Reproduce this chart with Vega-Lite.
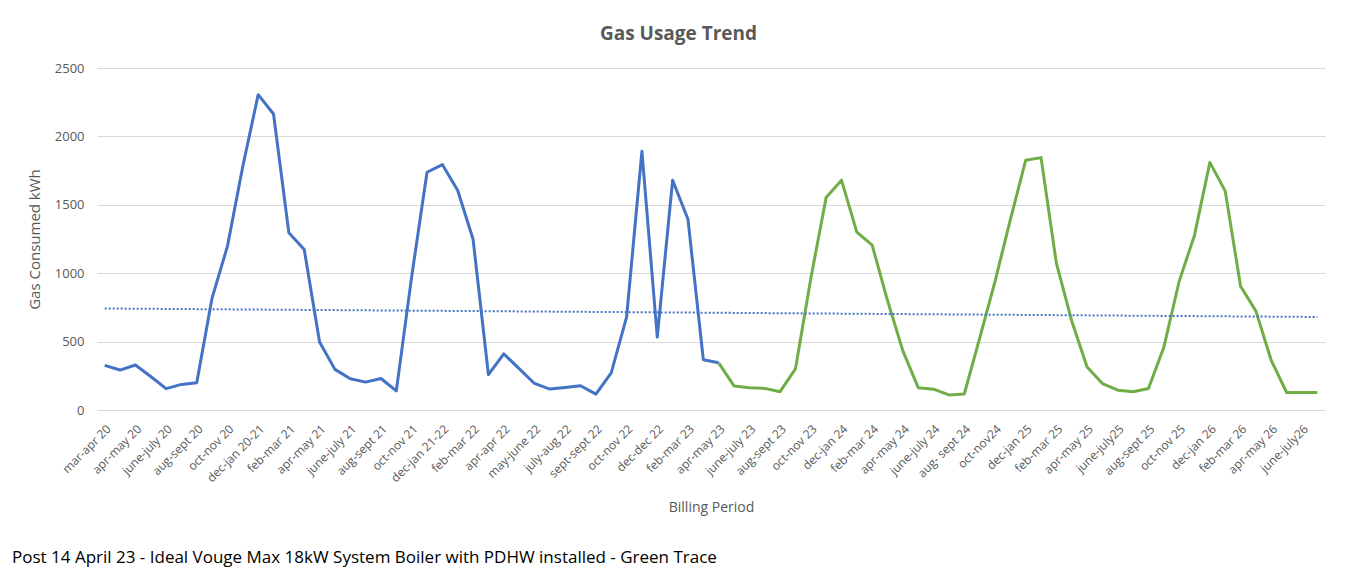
{
  "$schema": "https://vega.github.io/schema/vega-lite/v6.json",
  "background": "white",
  "autosize": {"type": "none"},
  "padding": {"left": 97, "top": 68, "right": 41, "bottom": 161},
  "width": 1228,
  "height": 342,
  "title": {
    "text": "Post 14 April 23 - Ideal Vouge Max 18kW System Boiler with PDHW installed - Green Trace",
    "orient": "bottom",
    "anchor": "start",
    "frame": "group",
    "dx": -85,
    "offset": 35,
    "font": "Open Sans",
    "fontSize": 17,
    "fontWeight": "normal",
    "color": "#000000"
  },
  "resolve": {"axis": {"x": "independent"}},
  "layer": [
    {
      "data": {
        "values": [
          {"period": "mar-apr 20", "kwh": 326, "series": "before"},
          {"period": "apr 20", "kwh": 292, "series": "before"},
          {"period": "apr-may 20", "kwh": 329, "series": "before"},
          {"period": "may-june 20", "kwh": 245, "series": "before"},
          {"period": "june-july 20", "kwh": 156, "series": "before"},
          {"period": "july-aug 20", "kwh": 187, "series": "before"},
          {"period": "aug-sept 20", "kwh": 200, "series": "before"},
          {"period": "sept-oct 20", "kwh": 820, "series": "before"},
          {"period": "oct-nov 20", "kwh": 1198, "series": "before"},
          {"period": "nov-dec 20", "kwh": 1782, "series": "before"},
          {"period": "dec-jan 20-21", "kwh": 2305, "series": "before"},
          {"period": "jan-feb 21", "kwh": 2164, "series": "before"},
          {"period": "feb-mar 21", "kwh": 1295, "series": "before"},
          {"period": "mar-apr 21", "kwh": 1173, "series": "before"},
          {"period": "apr-may 21", "kwh": 497, "series": "before"},
          {"period": "may-june 21", "kwh": 297, "series": "before"},
          {"period": "june-july 21", "kwh": 229, "series": "before"},
          {"period": "july-aug 21", "kwh": 204, "series": "before"},
          {"period": "aug-sept 21", "kwh": 230, "series": "before"},
          {"period": "sept-oct 21", "kwh": 140, "series": "before"},
          {"period": "oct-nov 21", "kwh": 975, "series": "before"},
          {"period": "nov-dec 21", "kwh": 1738, "series": "before"},
          {"period": "dec-jan 21-22", "kwh": 1794, "series": "before"},
          {"period": "jan-feb 22", "kwh": 1605, "series": "before"},
          {"period": "feb-mar 22", "kwh": 1248, "series": "before"},
          {"period": "mar-apr 22", "kwh": 259, "series": "before"},
          {"period": "apr-apr 22", "kwh": 410, "series": "before"},
          {"period": "apr-may 22", "kwh": 303, "series": "before"},
          {"period": "may-june 22", "kwh": 194, "series": "before"},
          {"period": "june-july 22", "kwh": 153, "series": "before"},
          {"period": "july-aug 22", "kwh": 165, "series": "before"},
          {"period": "aug-sept 22", "kwh": 177, "series": "before"},
          {"period": "sept-sept 22", "kwh": 116, "series": "before"},
          {"period": "sept-oct 22", "kwh": 272, "series": "before"},
          {"period": "oct-nov 22", "kwh": 679, "series": "before"},
          {"period": "nov-dec 22", "kwh": 1891, "series": "before"},
          {"period": "dec-dec 22", "kwh": 533, "series": "before"},
          {"period": "dec-jan 22-23", "kwh": 1680, "series": "before"},
          {"period": "feb-mar 23", "kwh": 1394, "series": "before"},
          {"period": "mar-apr 23", "kwh": 368, "series": "before"},
          {"period": "apr-may 23", "kwh": 345, "series": "before"},
          {"period": "apr-may 23", "kwh": 345, "series": "after"},
          {"period": "may-june 23", "kwh": 176, "series": "after"},
          {"period": "june-july 23", "kwh": 163, "series": "after"},
          {"period": "july-aug 23", "kwh": 158, "series": "after"},
          {"period": "aug-sept 23", "kwh": 134, "series": "after"},
          {"period": "sept-oct 23", "kwh": 300, "series": "after"},
          {"period": "oct-nov 23", "kwh": 960, "series": "after"},
          {"period": "nov-dec 23", "kwh": 1554, "series": "after"},
          {"period": "dec-jan 24", "kwh": 1680, "series": "after"},
          {"period": "jan-feb 24", "kwh": 1300, "series": "after"},
          {"period": "feb-mar 24", "kwh": 1205, "series": "after"},
          {"period": "mar-apr 24", "kwh": 800, "series": "after"},
          {"period": "apr-may 24", "kwh": 432, "series": "after"},
          {"period": "may-june 24", "kwh": 163, "series": "after"},
          {"period": "june-july 24", "kwh": 152, "series": "after"},
          {"period": "july-aug 24", "kwh": 110, "series": "after"},
          {"period": "aug- sept 24", "kwh": 117, "series": "after"},
          {"period": "sept-oct 24", "kwh": 524, "series": "after"},
          {"period": "oct-nov24", "kwh": 939, "series": "after"},
          {"period": "nov-dec 24", "kwh": 1390, "series": "after"},
          {"period": "dec-jan 25", "kwh": 1825, "series": "after"},
          {"period": "jan-feb 25", "kwh": 1845, "series": "after"},
          {"period": "feb-mar 25", "kwh": 1073, "series": "after"},
          {"period": "mar-apr 25", "kwh": 651, "series": "after"},
          {"period": "apr-may 25", "kwh": 314, "series": "after"},
          {"period": "may-june 25", "kwh": 193, "series": "after"},
          {"period": "june-july25", "kwh": 145, "series": "after"},
          {"period": "july-aug 25", "kwh": 133, "series": "after"},
          {"period": "aug-sept 25", "kwh": 157, "series": "after"},
          {"period": "sept-oct 25", "kwh": 458, "series": "after"},
          {"period": "oct-nov 25", "kwh": 941, "series": "after"},
          {"period": "nov-dec 25", "kwh": 1278, "series": "after"},
          {"period": "dec-jan 26", "kwh": 1810, "series": "after"},
          {"period": "jan-feb 26", "kwh": 1600, "series": "after"},
          {"period": "feb-mar 26", "kwh": 905, "series": "after"},
          {"period": "mar-apr 26", "kwh": 723, "series": "after"},
          {"period": "apr-may 26", "kwh": 362, "series": "after"},
          {"period": "may-june 26", "kwh": 128, "series": "after"},
          {"period": "june-july26", "kwh": 128, "series": "after"},
          {"period": "july-aug 26", "kwh": 128, "series": "after"}
        ]
      },
      "mark": {"type": "line", "strokeWidth": 3, "strokeJoin": "round"},
      "encoding": {
        "x": {
          "field": "period",
          "type": "nominal",
          "sort": null,
          "title": "Billing Period",
          "axis": {
            "values": [
              "mar-apr 20", "apr-may 20", "june-july 20", "aug-sept 20", "oct-nov 20",
              "dec-jan 20-21", "feb-mar 21", "apr-may 21", "june-july 21", "aug-sept 21",
              "oct-nov 21", "dec-jan 21-22", "feb-mar 22", "apr-apr 22", "may-june 22",
              "july-aug 22", "sept-sept 22", "oct-nov 22", "dec-dec 22", "feb-mar 23",
              "apr-may 23", "june-july 23", "aug-sept 23", "oct-nov 23", "dec-jan 24",
              "feb-mar 24", "apr-may 24", "june-july 24", "aug- sept 24", "oct-nov24",
              "dec-jan 25", "feb-mar 25", "apr-may 25", "june-july25", "aug-sept 25",
              "oct-nov 25", "dec-jan 26", "feb-mar 26", "apr-may 26", "june-july26"
            ],
            "orient": "bottom",
            "labelAngle": -45,
            "labelPadding": 13,
            "ticks": false,
            "grid": false,
            "domainColor": "#d9d9d9",
            "titleFontSize": 14,
            "titlePadding": 17
          }
        },
        "y": {
          "field": "kwh",
          "type": "quantitative",
          "title": "Gas Consumed kWh",
          "scale": {"domain": [0, 2500], "nice": false},
          "axis": {
            "values": [0, 500, 1000, 1500, 2000, 2500],
            "format": "d",
            "labelFontSize": 13,
            "domain": false,
            "ticks": false,
            "labelPadding": 13,
            "titleFontSize": 15,
            "titlePadding": 12
          }
        },
        "color": {
          "field": "series",
          "type": "nominal",
          "scale": {"domain": ["before", "after"], "range": ["#4472C4", "#70AD47"]},
          "legend": null
        }
      }
    },
    {
      "data": {
        "values": [
          {"period": "mar-apr 20", "trend": 742},
          {"period": "july-aug 26", "trend": 680}
        ]
      },
      "mark": {"type": "line", "strokeWidth": 2, "strokeDash": [2, 2], "color": "#4472C4"},
      "encoding": {
        "x": {
          "field": "period",
          "type": "nominal",
          "sort": null,
          "title": "Gas Usage Trend",
          "axis": {
            "orient": "top",
            "labels": false,
            "ticks": false,
            "domain": false,
            "grid": false,
            "titleFontSize": 19,
            "titleFontWeight": "bold",
            "titleColor": "#595959",
            "titleX": 581,
            "titlePadding": 25
          }
        },
        "y": {
          "field": "trend",
          "type": "quantitative",
          "scale": {"domain": [0, 2500], "nice": false}
        }
      }
    }
  ],
  "config": {
    "view": {"stroke": null},
    "font": "Open Sans",
    "axis": {
      "labelFont": "Open Sans",
      "labelFontSize": 12,
      "labelColor": "#595959",
      "titleFont": "Open Sans",
      "titleFontSize": 13,
      "titleFontWeight": "normal",
      "titleColor": "#595959",
      "gridColor": "#d9d9d9",
      "gridWidth": 1
    }
  }
}
